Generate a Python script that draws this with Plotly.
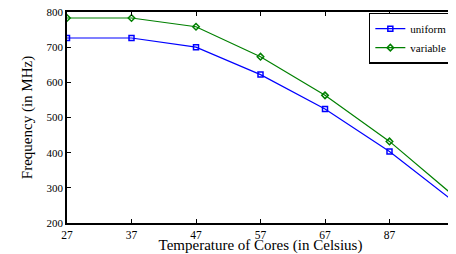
import plotly.graph_objects as go

temps = ["27", "37", "47", "57", "67", "87", "97"]
uniform = [726, 726, 700, 622, 524, 403, 261]
variable = [783, 783, 758, 673, 563, 432, 277]

xpos = list(range(len(temps)))

fig = go.Figure()
fig.add_trace(go.Scatter(x=xpos, y=uniform, name="uniform", mode="lines+markers",
                         line=dict(color="#0000FF", width=1.2),
                         marker=dict(symbol="square-open", size=5, color="#0000FF", line=dict(width=1.5))))
fig.add_trace(go.Scatter(x=xpos, y=variable, name="variable", mode="lines+markers",
                         line=dict(color="#008000", width=1.2),
                         marker=dict(symbol="diamond-open", size=5, color="#008000", line=dict(width=1.5))))

font = "Liberation Serif"
fig.update_layout(
    width=448, height=246,
    margin=dict(l=59, r=2, t=4, b=31, autoexpand=False),
    paper_bgcolor="white", plot_bgcolor="white",
    font=dict(family=font, size=12, color="black"),
    showlegend=True,
    legend=dict(x=0.997, y=0.997, xanchor="right", yanchor="top",
                bordercolor="black", borderwidth=1.5, bgcolor="white",
                font=dict(family=font, size=11), tracegroupgap=0,
                itemwidth=30),
    xaxis=dict(range=[0, 6], tickvals=xpos, ticktext=temps, automargin=False,
               ticklabeloverflow="allow",
               showgrid=False, zeroline=False, showline=True, linecolor="black", linewidth=1.5,
               mirror="ticks", ticks="inside", ticklen=4, tickcolor="black",
               tickfont=dict(family=font, size=11.5),
               title=dict(text="Temperature of Cores (in Celsius)", font=dict(family=font, size=15), standoff=0)),
    yaxis=dict(range=[200, 800], tickvals=[200, 300, 400, 500, 600, 700, 800], automargin=False,
               ticklabeloverflow="allow",
               showgrid=False, zeroline=False, showline=True, linecolor="black", linewidth=1.5,
               mirror="ticks", ticks="inside", ticklen=4, tickcolor="black",
               tickfont=dict(family=font, size=11),
               title=dict(text="Frequency (in MHz)", font=dict(family=font, size=15), standoff=10)),
)

fig.write_html("out.html")
